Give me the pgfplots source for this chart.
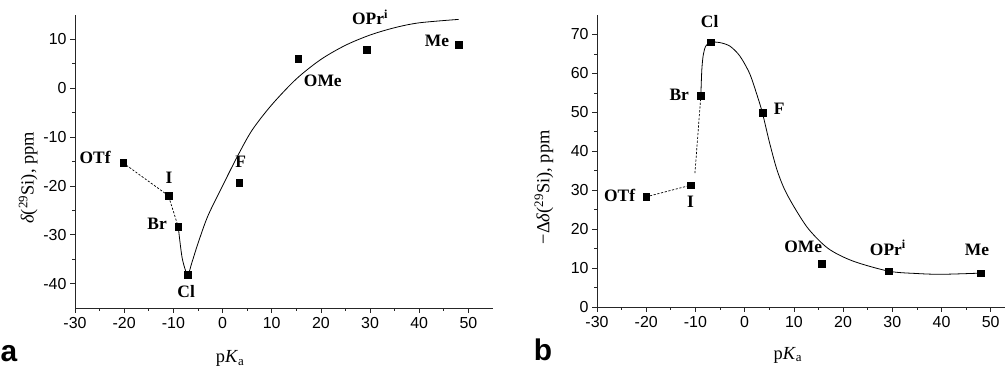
\documentclass[border=0pt]{standalone}
\usepackage{fontspec}
\setmainfont{Liberation Serif}
\setsansfont{Liberation Sans}
\usepackage{pgfplots}
\pgfplotsset{compat=1.18}
\newcommand{\lbl}{\fontsize{17.5}{17.5}\selectfont\bfseries}
\pgfplotsset{
  myax/.style={
    scale only axis,
    anchor=south west,
    axis lines=left,
    axis line style={-, line width=0.8pt, black!85},
    tick align=outside,
    major tick length=5bp,
    minor tick length=3bp,
    tick style={black!85, line width=0.7pt},
    minor x tick num=1,
    minor y tick num=1,
    xmin=-30,
    xtick={-30,-20,...,50},
    /pgf/number format/assume math mode=true,
    ticklabel style={font=\fontsize{16}{16}\selectfont\sffamily},
    xticklabel style={yshift=-1bp},
    label style={font=\fontsize{18.5}{18.5}\selectfont},
    xlabel={p\textit{K}\textsubscript{a}},
    clip=false,
  },
  curve/.style={black, line width=0.8pt, smooth, tension=0.5, no marks},
  dcurve/.style={black, line width=0.7pt, dash pattern=on 2.2bp off 1.6bp, no marks},
  pts/.style={only marks, mark=square*, mark size=3.4bp, black},
}
\begin{document}
\begin{tikzpicture}
\path[use as bounding box] (0,0) rectangle (1006bp,369bp);
% ---------------- panel a ----------------
\begin{axis}[myax, at={(75bp,61bp)}, width=418bp, height=293bp,
  xmax=55, ymin=-45, ymax=15, ytick={-40,-30,...,10},
  ylabel={\textit{δ}(\textsuperscript{29}Si), ppm},
  ylabel style={at={(axis description cs:-0.112,0.444)}, anchor=center},
  xlabel style={at={(axis description cs:0.371,-0.172)}, anchor=center},
]
\addplot[dcurve] coordinates {(-20.2,-15.3) (-11,-22) (-9,-28.4)};
\addplot[curve] coordinates {
(-9,-28.4) (-8.2,-34.8) (-7.1,-38.1) (-6.2,-35.6) (-5,-31.8) (-3,-26.2)
(0,-20) (3,-14) (6,-8.6) (10,-3.4) (15,1.9) (20,5.9) (25,8.8) (30,10.9)
(35,12.4) (40,13.4) (48,14.1)};
\addplot[pts] coordinates {
(-20.2,-15.3) (-11,-22) (-9,-28.4) (-7.1,-38.1) (3.4,-19.4) (15.4,6.1) (29.3,7.9) (48,9)};
\node[font=\lbl] at (axis cs:-25.9,-14.2) {OTf};
\node[font=\lbl] at (axis cs:-10.9,-18.4) {I};
\node[font=\lbl] at (axis cs:-13.3,-27.8) {Br};
\node[font=\lbl] at (axis cs:-7.4,-41.6) {Cl};
\node[font=\lbl] at (axis cs:3.7,-15.1) {F};
\node[font=\lbl] at (axis cs:20.4,1.5) {OMe};
\node[font=\lbl] at (axis cs:30,14.5) {OPr\textsuperscript{i}};
\node[font=\lbl] at (axis cs:43.6,9.7) {Me};
\end{axis}
\node[font=\fontsize{30}{30}\selectfont\sffamily\bfseries] at (9bp,15bp) {a};
% ---------------- panel b ----------------
\begin{axis}[myax, at={(597bp,62bp)}, width=408bp, height=292bp,
  xmax=52.9, ymin=0, ymax=75, ytick={0,10,...,70},
  ylabel={−Δ\textit{δ}(\textsuperscript{29}Si), ppm},
  ylabel style={at={(axis description cs:-0.13,0.41)}, anchor=center},
  xlabel style={at={(axis description cs:0.468,-0.165)}, anchor=center},
]
\addplot[dcurve] coordinates {(-20,28.3) (-10.9,31.3)};
\addplot[dcurve] coordinates {(-10.1,34.4) (-8.9,54.3)};
\addplot[curve] coordinates {
(-8.9,54.3) (-8.7,61) (-8.4,64.8) (-7.9,67) (-6.95,68) (-5,67.9) (-3,67)
(-1,64.5) (1,60) (2.5,54.5) (3.6,49.9) (5,42.5) (6.5,35.5) (8,30.5) (10,25.8)
(13,20) (17,15) (22,11.8) (29.3,9.2) (35,8.6) (40,8.4) (48,8.7)};
\addplot[pts] coordinates {
(-20,28.3) (-10.9,31.3) (-8.9,54.3) (-6.95,68) (3.6,49.9) (15.6,11.1) (29.3,9.2) (48,8.7)};
\node[font=\lbl] at (axis cs:-7.1,73.4) {Cl};
\node[font=\lbl] at (axis cs:-13.3,54.6) {Br};
\node[font=\lbl] at (axis cs:7.0,50.9) {F};
\node[font=\lbl] at (axis cs:-25.4,28.6) {OTf};
\node[font=\lbl] at (axis cs:-11.0,27.0) {I};
\node[font=\lbl] at (axis cs:11.9,15.4) {OMe};
\node[font=\lbl] at (axis cs:29.1,15.2) {OPr\textsuperscript{i}};
\node[font=\lbl] at (axis cs:47.2,14.6) {Me};
\end{axis}
\node[font=\fontsize{30}{30}\selectfont\sffamily\bfseries] at (543bp,19bp) {b};
\end{tikzpicture}
\end{document}
